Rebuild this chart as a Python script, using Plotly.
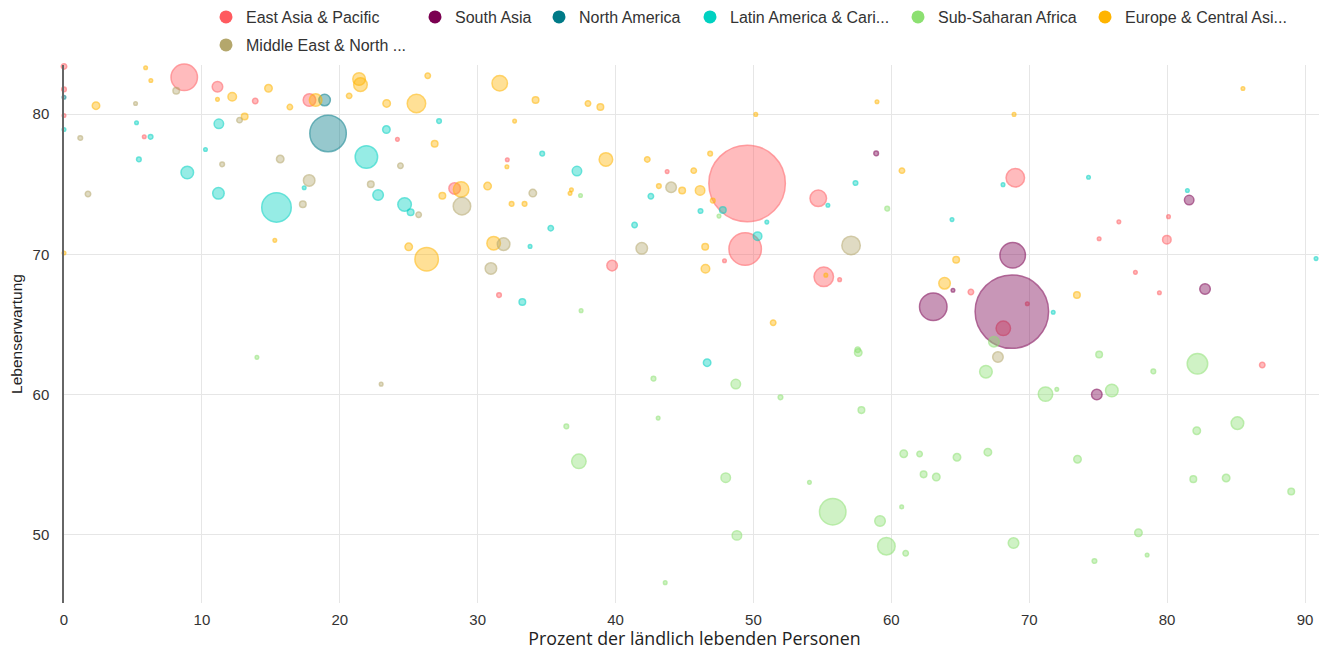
import plotly.graph_objects as go

# ---------------- data ----------------
# x: Prozent der ländlich lebenden Personen, y: Lebenserwartung, pop: population (millions, est. from bubble size)
eap_x = [0, 0, 0, 5.82, 8.72, 11.13, 13.87, 17.8, 24.18, 28.33, 32.15, 31.55, 39.75, 43.74, 49.54, 49.4, 47.9,
         54.7, 55.1, 56.25, 68.99, 76.5, 75.07, 80.1, 79.98, 77.7, 65.77, 68.12, 69.86, 79.44, 86.9]
eap_y = [83.4, 81.76, 79.9, 78.38, 82.62, 81.95, 80.93, 81.0, 78.2, 74.7, 76.75, 67.1, 69.2, 75.9, 75.06, 70.38, 69.55,
         74.0, 68.4, 68.2, 75.46, 72.32, 71.11, 72.69, 71.05, 68.72, 67.32, 64.73, 66.48, 67.27, 62.11]
eap_pop = [7, 5, 3, 3, 164, 26, 7, 37, 3, 31, 3, 5, 26, 3, 1370, 247, 3,
           64, 89, 3, 80, 3, 3, 3, 17, 3, 7, 49, 3, 3, 7]

sa_x = [58.9, 81.6, 68.8, 64.47, 63.04, 68.74, 82.75, 74.9]
sa_y = [77.2, 73.87, 69.94, 67.44, 66.27, 65.92, 67.53, 60.01]
sa_pop = [5, 21, 152, 3, 177, 1264, 26, 26]

na_x = [0, 18.9, 19.15]
na_y = [81.2, 81.0, 78.62]
na_pop = [3, 31, 312]

lac_x = [0, 5.26, 6.28, 5.43, 8.94, 10.26, 11.23, 11.2, 15.41, 17.42, 21.93, 23.38, 22.78, 24.7, 25.14, 27.2,
         34.68, 37.2, 35.3, 33.8, 33.24, 42.56, 41.38, 46.16, 47.78, 50.97, 50.3, 46.64, 55.4, 57.4, 64.4, 68.1,
         74.3, 81.47, 71.74, 90.8]
lac_y = [78.9, 79.38, 78.38, 76.77, 75.84, 77.48, 79.31, 74.35, 73.35, 74.75, 76.94, 78.9, 74.23, 73.56, 73.0, 79.5,
         77.18, 75.94, 71.87, 70.57, 66.6, 74.14, 72.1, 73.09, 73.16, 72.3, 71.3, 62.28, 73.5, 75.09, 72.48, 74.97,
         75.5, 74.56, 65.87, 69.7]
lac_pop = [3, 3, 5, 5, 37, 3, 21, 31, 204, 3, 118, 13, 26, 43, 10, 5,
           5, 21, 7, 3, 10, 7, 7, 5, 10, 3, 17, 13, 3, 5, 3, 3,
           3, 3, 3, 3]

ssa_x = [13.99, 37.46, 47.5, 37.5, 42.75, 48.72, 51.96, 43.09, 36.43, 37.34, 47.99, 54.06, 55.75, 48.8, 43.6,
         59.7, 67.44, 66.86, 57.56, 57.6, 75.07, 79.0, 82.2, 71.18, 72.0, 75.99, 57.83, 85.1, 82.15, 60.9, 62.05,
         64.76, 67.0, 73.5, 62.34, 63.26, 81.9, 84.28, 89.0, 60.75, 59.18, 59.64, 61.04, 68.86, 77.92, 78.55,
         74.73, 61.54]
ssa_y = [62.66, 74.2, 72.73, 65.99, 61.14, 60.76, 59.81, 58.33, 57.74, 55.25, 54.08, 53.75, 51.66, 49.97, 46.6,
         73.26, 63.78, 61.64, 63.2, 63.0, 62.87, 61.66, 62.2, 60.04, 60.38, 60.3, 58.9, 57.97, 57.43, 55.79, 55.77,
         55.54, 55.9, 55.4, 54.32, 54.13, 53.98, 54.06, 53.1, 52.0, 50.99, 49.2, 48.7, 49.42, 50.16, 48.57,
         48.14, 45.0]
ssa_pop = [3, 3, 3, 3, 5, 21, 5, 3, 5, 49, 21, 3, 164, 21, 3,
           5, 26, 37, 7, 13, 10, 5, 98, 49, 3, 37, 10, 37, 13, 13, 7,
           13, 13, 13, 10, 13, 10, 13, 10, 3, 26, 72, 7, 26, 13, 3,
           5, 7]

eca_x = [0, 2.32, 5.92, 6.3, 11.13, 12.2, 13.1, 14.83, 15.29, 16.38, 18.25, 20.68, 21.4, 21.5, 23.4, 25.56, 26.38,
         26.88, 27.44, 25.0, 26.3, 28.8, 31.6, 34.2, 38.0, 38.9, 32.68, 32.12, 39.3, 30.72, 36.8, 36.7, 32.46,
         33.4, 31.16, 42.3, 43.14, 44.83, 45.67, 46.86, 46.13, 47.05, 46.5, 46.52, 50.17, 51.43, 55.25, 58.96,
         68.9, 85.5, 60.77, 64.7, 63.86, 73.46]
eca_y = [70.1, 80.6, 83.3, 82.4, 81.05, 81.24, 79.83, 81.84, 71.0, 80.5, 81.0, 81.3, 82.5, 82.1, 80.76, 80.76, 82.73,
         77.88, 74.18, 70.54, 69.66, 74.63, 82.2, 81.0, 80.76, 80.5, 79.5, 76.25, 76.77, 74.87, 74.6, 74.35, 73.6,
         73.6, 70.8, 76.77, 74.87, 74.56, 75.97, 77.18, 74.56, 73.83, 70.54, 68.98, 79.98, 65.13, 68.52, 80.88,
         79.98, 81.83, 75.97, 69.62, 67.94, 67.1]
eca_pop = [3, 13, 3, 3, 3, 17, 10, 13, 3, 7, 37, 7, 37, 43, 13, 80, 7,
           10, 10, 13, 129, 56, 56, 10, 7, 10, 3, 3, 43, 13, 3, 3, 5,
           5, 43, 7, 5, 10, 7, 5, 21, 5, 10, 17, 3, 7, 3, 3,
           3, 3, 7, 10, 31, 10]

mena_x = [1.18, 1.74, 5.19, 8.14, 11.47, 12.73, 15.68, 17.78, 17.32, 24.4, 22.25, 25.72, 28.86, 34.0, 31.88,
          30.96, 41.9, 44.03, 57.08, 67.73, 23.0]
mena_y = [78.3, 74.3, 80.76, 81.66, 76.42, 79.57, 76.8, 75.27, 73.58, 76.32, 75.0, 72.83, 73.44, 74.37, 70.73,
          69.0, 70.43, 74.78, 70.64, 62.68, 60.75]
mena_pop = [5, 7, 3, 10, 5, 7, 13, 31, 10, 7, 10, 7, 72, 13, 37,
            31, 31, 26, 80, 26, 3]

regions = ["East Asia & Pacific", "South Asia", "North America", "Latin America & Cari...",
           "Sub-Saharan Africa", "Europe & Central Asi...", "Middle East & North ..."]
colors = ["#FF5A5F", "#7B0051", "#007A87", "#00D1C1", "#8CE071", "#FFB400", "#B4A76C"]
series = [(eap_x, eap_y, eap_pop), (sa_x, sa_y, sa_pop), (na_x, na_y, na_pop), (lac_x, lac_y, lac_pop),
          (ssa_x, ssa_y, ssa_pop), (eca_x, eca_y, eca_pop), (mena_x, mena_y, mena_pop)]

x_ticks = [0, 10, 20, 30, 40, 50, 60, 70, 80, 90]
y_ticks = [50, 60, 70, 80]

# ---------------- figure ----------------
def rgba(hex_color, a):
    h = hex_color.lstrip("#")
    r, g, b = int(h[0:2], 16), int(h[2:4], 16), int(h[4:6], 16)
    return f"rgba({r},{g},{b},{a})"

max_pop = max(max(s[2]) for s in series)
max_diam = 76.5
sizeref = 2.0 * max_pop / (max_diam ** 2)

# the page body has an 8px margin, so the figure is sized to the visible area
W, H = 1319, 642
OFF = 8

fig = go.Figure()
for name, col, (xs, ys, ps) in zip(regions, colors, series):
    fig.add_trace(go.Scatter(
        x=xs, y=ys, mode="markers", name=name, showlegend=False, cliponaxis=False,
        marker=dict(size=ps, sizemode="area", sizeref=sizeref, color=rgba(col, 0.58),
                    line=dict(color=rgba(col, 0.82), width=1.5)),
        hovertemplate="%{x}, %{y}<extra>" + name + "</extra>",
    ))

# legend entries (solid symbols), each placed in its own legend box like the reference layout
legend_pos = [(243, 17), (452, 17), (576, 17), (727, 17), (935, 17), (1122, 17), (243, 45)]
legend_layout = {}
for i, (name, col) in enumerate(zip(regions, colors)):
    key = "legend" if i == 0 else f"legend{i + 1}"
    fig.add_trace(go.Scatter(
        x=[None], y=[None], mode="markers", name=name, legend=key, showlegend=True,
        marker=dict(size=13, color=col),
    ))
    tx, ty = legend_pos[i]
    legend_layout[key] = dict(
        x=(tx - 37 - OFF) / W, y=1 - (ty - OFF) / H, xref="container", yref="container",
        xanchor="left", yanchor="middle", orientation="h",
        bgcolor="rgba(0,0,0,0)", borderwidth=0,
        font=dict(family="Liberation Sans, Arial, sans-serif", size=16, color="#333"),
        itemclick=False, itemdoubleclick=False,
    )

fig.update_layout(
    width=W, height=H,
    margin=dict(l=64 - OFF, r=2, t=65 - OFF, b=47),
    paper_bgcolor="white", plot_bgcolor="white",
    font=dict(family="Liberation Sans, Arial, sans-serif", color="#333"),
    **legend_layout,
    xaxis=dict(
        range=[0, 91.45], tickvals=x_ticks, showgrid=True, gridcolor="#e6e6e6", gridwidth=1,
        zeroline=False, showline=False, ticks="", ticklabelstandoff=6,
        tickfont=dict(family="Liberation Sans, Arial, sans-serif", size=15, color="#333"),
        title=dict(text="Prozent der ländlich lebenden Personen", standoff=0,
                   font=dict(family="Open Sans, sans-serif", size=17.8, color="#222")),
        automargin=False,
    ),
    yaxis=dict(
        range=[45.15, 83.5], tickvals=y_ticks, showgrid=True, gridcolor="#e6e6e6", gridwidth=1,
        zeroline=False, showline=True, linecolor="#666", linewidth=1.5, ticks="", ticklabelstandoff=10,
        tickfont=dict(family="Liberation Sans, Arial, sans-serif", size=15, color="#333"),
        title=dict(text="Lebenserwartung", standoff=6,
                   font=dict(family="Liberation Sans, Arial, sans-serif", size=15.5, color="#222")),
        automargin=False,
    ),
)

fig.write_html("out.html")
